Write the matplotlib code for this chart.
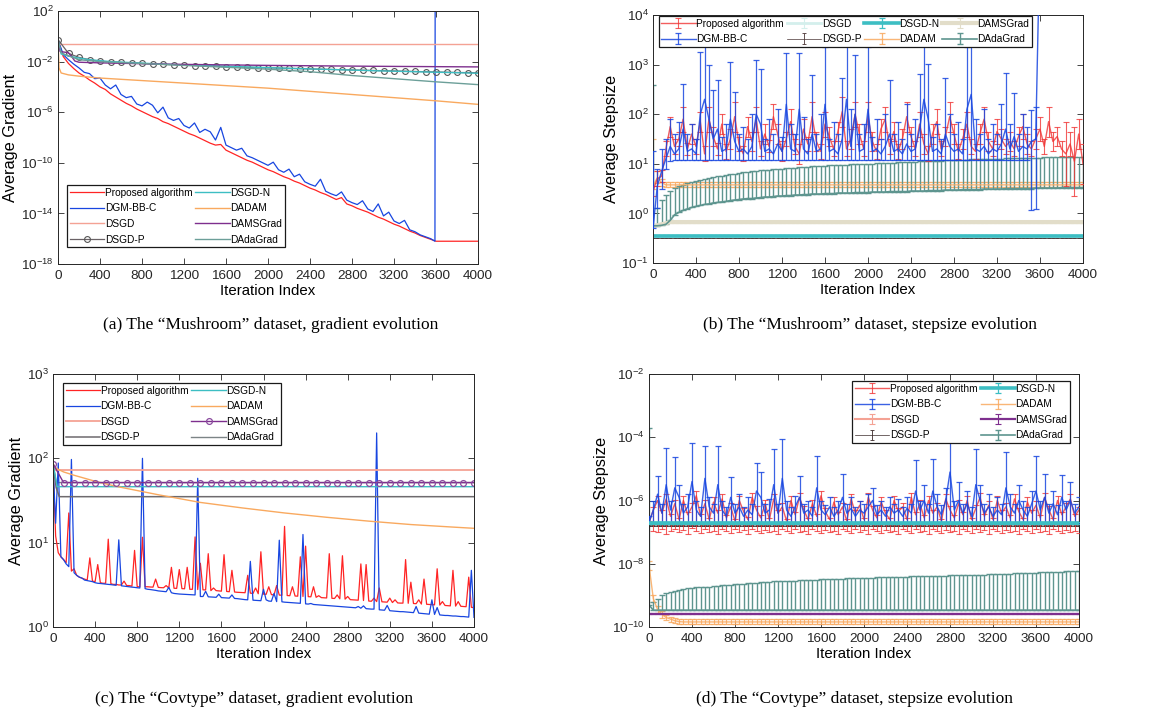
import numpy as np
import matplotlib
matplotlib.use('Agg')
import matplotlib.pyplot as plt
from matplotlib.ticker import FixedLocator, NullLocator, FuncFormatter

plt.rcParams.update({
    'font.family': 'Liberation Sans',
    'mathtext.fontset': 'custom',
    'mathtext.rm': 'Liberation Sans',
    'mathtext.it': 'Liberation Sans:italic',
    'mathtext.bf': 'Liberation Sans:bold',
    'axes.linewidth': 0.7,
    'axes.edgecolor': '#262626',
    'xtick.direction': 'in', 'ytick.direction': 'in',
    'xtick.top': True, 'ytick.right': True,
    'xtick.major.size': 4, 'ytick.major.size': 4,
    'xtick.major.width': 0.6, 'ytick.major.width': 0.6,
    'xtick.color': '#262626', 'ytick.color': '#262626',
    'xtick.labelsize': 9.7, 'ytick.labelsize': 9.7,
    'xtick.major.pad': 4, 'ytick.major.pad': 3,
    'axes.labelsize': 10.8,
})

labels = ['Proposed algorithm', 'DGM-BB-C', 'DSGD', 'DSGD-P',
          'DSGD-N', 'DADAM', 'DAMSGrad', 'DAdaGrad']

# ===================== (a) Mushroom, gradient (log10 values) =====================
it_a = np.arange(0, 4001, 50)
red_a = [-0.26, -1.6, -2.15, -2.55, -2.9, -3.15, -3.45, -3.7, -4.0, -4.2,
         -4.55, -4.8, -5.05, -5.3, -5.5, -5.75, -5.95, -6.15, -6.35, -6.5,
         -6.75, -6.9, -7.1, -7.3, -7.5, -7.7, -7.85, -8.05, -8.25, -8.45,
         -8.6, -8.55, -9.0, -9.2, -9.4, -9.6, -9.8, -9.95, -10.15, -10.35,
         -10.55, -10.7, -10.9, -11.1, -11.25, -11.45, -11.6, -11.8, -12.0, -12.15,
         -12.35, -12.5, -12.7, -12.9, -12.75, -13.25, -13.4, -13.6, -13.75, -13.9,
         -14.1, -14.3, -14.45, -14.65, -14.85, -15.0, -15.2, -15.4, -15.55, -15.75,
         -15.9, -16.05, -16.2, -16.2, -16.2, -16.2, -16.2, -16.2, -16.2, -16.2,
         -16.2]
blue_a = [-0.26, -1.45, -1.85, -2.2, -2.5, -2.85, -2.95, -3.35, -3.3, -3.85,
          -4.15, -3.85, -4.6, -4.85, -4.75, -5.35, -5.5, -5.2, -5.45, -6.05,
          -5.6, -6.45, -6.65, -6.5, -7.05, -7.25, -6.85, -7.6, -7.35, -7.55,
          -8.2, -7.2, -8.6, -8.8, -9.0, -8.85, -9.45, -9.6, -9.8, -10.0,
          -10.2, -9.95, -10.55, -10.75, -10.5, -11.1, -10.9, -11.5, -11.7, -11.85,
          -11.3, -12.25, -12.45, -12.6, -12.3, -12.95, -13.15, -13.3, -13.0, -13.65,
          -13.85, -13.25, -14.2, -13.9, -14.6, -14.8, -14.55, -15.3, -15.45, -15.7,
          -15.85, -16.0]
blue_a_tail_it = [3590, 3592]
blue_a_tail = [-16.2, 4.0]
dsgd_a_it = [0, 4000]
dsgd_a = [-0.58, -0.58]
it_100 = np.arange(0, 4001, 100)
dsgdp_a = [-0.26, -1.35, -1.67, -1.85, -1.97, -2.03, -2.07, -2.11, -2.15, -2.19,
           -2.22, -2.25, -2.28, -2.31, -2.34, -2.37, -2.4, -2.42, -2.44, -2.47,
           -2.49, -2.51, -2.54, -2.56, -2.58, -2.6, -2.62, -2.64, -2.66, -2.68,
           -2.7, -2.72, -2.74, -2.76, -2.78, -2.8, -2.82, -2.84, -2.86, -2.87,
           -2.89]
dsgdn_a_it = [0, 30, 100, 200, 300, 500, 1000, 2000, 3000, 4000]
dsgdn_a = [-0.26, -1.4, -1.55, -1.72, -1.85, -2.0, -2.2, -2.48, -2.72, -2.92]
dadam_a_it = [0, 10, 30, 100, 200, 400, 800, 1200, 1600, 2000, 2400, 2800, 3200, 3600, 4000]
dadam_a = [-0.26, -2.5, -2.9, -3.05, -3.15, -3.3, -3.5, -3.7, -3.9, -4.1, -4.35, -4.6, -4.85, -5.1, -5.38]
dams_a_it = [0, 20, 60, 100, 130, 160, 200, 400, 1000, 2000, 3000, 4000]
dams_a = [-0.26, -1.2, -1.25, -1.3, -1.6, -1.95, -2.05, -2.1, -2.2, -2.3, -2.37, -2.42]
ada_a_it = [0, 30, 100, 200, 400, 800, 1200, 1600, 2000, 2400, 2800, 3200, 3600, 4000]
ada_a = [-0.26, -1.3, -1.55, -1.85, -2.0, -2.15, -2.3, -2.45, -2.6, -2.8, -3.1, -3.35, -3.6, -3.82]

# ===================== (b) Mushroom, stepsize (log10 values) =====================
it_b = np.arange(0, 4001, 40)
red_b_c = [0.45, 0.7, 0.75, 1.3, 1.75, 1.35, 1.5, 1.9, 1.3, 1.6,
           1.35, 1.85, 1.2, 1.9, 1.55, 1.3, 1.8, 1.25, 1.5, 1.95,
           1.4, 1.2, 1.75, 1.45, 1.9, 1.3, 1.6, 1.35, 1.95, 1.6,
           1.25, 1.5, 1.85, 1.35, 1.2, 1.7, 1.4, 1.95, 1.45, 1.25,
           1.8, 1.55, 1.3, 1.65, 2.05, 1.3, 1.5, 2.0, 1.6, 1.3,
           1.95, 1.45, 1.25, 1.7, 1.9, 1.35, 1.65, 1.25, 1.5, 1.95,
           1.55, 1.3, 1.8, 1.4, 1.2, 1.6, 1.85, 1.3, 1.55, 1.95,
           1.6, 1.25, 1.5, 1.8, 1.35, 1.25, 1.6, 1.9, 1.45, 1.3,
           1.65, 1.5, 1.35, 1.45, 1.3, 1.55, 1.75, 1.4, 1.3, 1.5,
           1.7, 1.35, 1.85, 1.45, 1.55, 1.3, 1.2, 1.4, 1.05, 1.6,
           1.0]
red_b_err = [0.1, 0.15, 0.12, 0.15, 0.2, 0.15, 0.15, 0.25, 0.12, 0.2,
             0.15, 0.2, 0.15, 0.25, 0.2, 0.12, 0.2, 0.15, 0.2, 0.3,
             0.15, 0.15, 0.2, 0.2, 0.25, 0.15, 0.2, 0.12, 0.25, 0.2,
             0.2, 0.15, 0.25, 0.15, 0.2, 0.2, 0.15, 0.3, 0.2, 0.15,
             0.25, 0.2, 0.15, 0.2, 0.3, 0.15, 0.2, 0.25, 0.2, 0.15,
             0.3, 0.2, 0.15, 0.2, 0.25, 0.15, 0.2, 0.15, 0.2, 0.3,
             0.2, 0.15, 0.25, 0.2, 0.15, 0.2, 0.25, 0.15, 0.2, 0.3,
             0.2, 0.15, 0.2, 0.25, 0.15, 0.15, 0.2, 0.25, 0.2, 0.15,
             0.25, 0.2, 0.15, 0.2, 0.15, 0.2, 0.25, 0.2, 0.15, 0.2,
             0.25, 0.15, 0.3, 0.2, 0.2, 0.15, 0.65, 0.25, 0.7, 0.3,
             0.4]
blue_b_c = [-0.3, 0.55, 0.85, 1.1, 1.35, 1.2, 1.3, 1.7, 1.25, 1.3,
            1.2, 2.0, 2.3, 1.9, 1.5, 1.7, 1.25, 1.3, 1.9, 1.45,
            1.25, 1.3, 1.2, 1.35, 2.0, 1.8, 1.25, 1.3, 1.2, 1.4,
            1.25, 2.2, 1.3, 1.25, 2.1, 1.3, 1.2, 1.6, 1.25, 1.3,
            2.2, 1.25, 1.3, 1.2, 1.5, 2.3, 1.35, 2.0, 1.25, 1.3,
            2.1, 1.25, 1.3, 1.2, 1.35, 1.6, 1.25, 1.3, 1.2, 1.4,
            1.25, 1.3, 1.7, 2.3, 1.9, 1.25, 1.3, 1.2, 1.6, 1.35,
            1.25, 1.3, 1.2, 2.1, 2.4, 1.3, 1.25, 1.35, 1.2, 1.3,
            1.25, 1.4, 1.7, 1.3, 1.55, 1.25, 1.35, 1.3, 1.45, 1.5]
blue_b_hi = [1.25, 0.9, 1.3, 1.5, 1.9, 1.6, 1.85, 2.6, 1.6, 1.8,
             1.5, 3.26, 3.39, 2.99, 2.49, 2.69, 1.55, 1.8, 3.05, 2.45,
             1.6, 1.75, 1.5, 2.0, 3.09, 2.92, 1.5, 1.9, 1.6, 2.1,
             1.55, 3.24, 1.8, 1.6, 3.24, 1.95, 1.5, 2.79, 1.6, 2.0,
             3.36, 1.5, 1.85, 1.6, 2.72, 3.46, 2.1, 3.19, 1.6, 1.8,
             3.36, 1.55, 1.9, 1.5, 2.0, 2.69, 1.6, 1.85, 1.5, 2.2,
             1.6, 1.9, 2.82, 3.39, 3.02, 1.55, 1.8, 1.5, 2.72, 2.0,
             1.6, 1.85, 1.5, 3.36, 3.49, 1.9, 1.6, 2.1, 1.5, 1.8,
             1.6, 2.2, 2.83, 1.8, 2.42, 1.6, 2.0, 1.75, 2.08, 2.15]
blue_b_lo = [-0.3, 0.1, 0.5, 0.9, 1.05] + [1.08] * 83 + [0.06, 0.09]
blue_b_tail_it = [3560, 3590]
blue_b_tail = [1.5, 4.6]
ada_b_lo = [-0.25, -0.25, -0.24, -0.22, -0.14, -0.03, 0.02, 0.06, 0.09, 0.12,
            0.14, 0.16, 0.18, 0.19, 0.21, 0.22, 0.23, 0.24, 0.26, 0.27,
            0.28, 0.29, 0.3, 0.3, 0.31, 0.32, 0.33, 0.33, 0.34, 0.35,
            0.35, 0.36, 0.36, 0.37, 0.37, 0.38, 0.38, 0.39, 0.39, 0.39,
            0.4, 0.4, 0.4, 0.41, 0.41, 0.41, 0.41, 0.42, 0.42, 0.42,
            0.42, 0.43, 0.43, 0.43, 0.43, 0.44, 0.44, 0.44, 0.44, 0.44,
            0.45, 0.45, 0.45, 0.45, 0.46, 0.46, 0.46, 0.46, 0.47, 0.47,
            0.47, 0.47, 0.48, 0.48, 0.48, 0.48, 0.48, 0.49, 0.49, 0.49,
            0.49, 0.49, 0.5, 0.5, 0.5, 0.5, 0.5, 0.5, 0.5, 0.51,
            0.51, 0.51, 0.51, 0.51, 0.51, 0.52, 0.52, 0.52, 0.52, 0.52,
            0.52]
ada_b_hi = [2.59, 0.1, 0.28, 0.38, 0.45, 0.52, 0.55, 0.58, 0.61, 0.63,
            0.66, 0.68, 0.69, 0.71, 0.73, 0.75, 0.76, 0.77, 0.79, 0.8,
            0.82, 0.83, 0.84, 0.85, 0.86, 0.87, 0.88, 0.88, 0.89, 0.9,
            0.9, 0.91, 0.92, 0.92, 0.93, 0.93, 0.94, 0.95, 0.95, 0.96,
            0.96, 0.97, 0.97, 0.97, 0.98, 0.98, 0.99, 0.99, 0.99, 1.0,
            1.0, 1.0, 1.01, 1.01, 1.02, 1.02, 1.02, 1.03, 1.03, 1.04,
            1.04, 1.04, 1.05, 1.05, 1.05, 1.06, 1.06, 1.06, 1.07, 1.07,
            1.07, 1.08, 1.08, 1.08, 1.09, 1.09, 1.09, 1.09, 1.1, 1.1,
            1.1, 1.1, 1.11, 1.11, 1.11, 1.11, 1.12, 1.12, 1.12, 1.12,
            1.12, 1.13, 1.13, 1.13, 1.13, 1.13, 1.14, 1.14, 1.14, 1.14,
            1.14]
dadam_b_c = [0.55, 0.72, 0.62] + [0.575] * 98
dadam_b_lo = [0.5, 0.62, 0.56] + [0.525] * 98
dadam_b_hi = [1.5, 0.85, 0.7] + [0.625] * 98
dams_b = [-0.25, -0.24, -0.22, -0.2] + [-0.175] * 97
dsgdn_b_level = -0.455
dsgdp_b_level = -0.49

# ===================== (c) Covtype, gradient (linear values) =====================
it_c = np.arange(0, 4001, 25)
red_c = [86.5, 12.0, 7.6, 6.8, 6.3, 5.8, 22.5, 4.6, 4.9, 4.1,
         3.9, 3.8, 3.7, 3.6, 6.6, 3.5, 3.45, 5.5, 3.35, 3.3,
         3.3, 11.0, 3.25, 3.2, 3.2, 3.15, 3.15, 3.5, 3.1, 3.1,
         3.05, 8.1, 3.0, 3.0, 11.6, 3.0, 3.0, 2.98, 2.97, 3.7,
         2.95, 2.93, 2.92, 3.1, 2.9, 5.1, 2.88, 2.87, 4.8, 2.85,
         2.84, 5.1, 2.8, 2.8, 11.7, 2.78, 5.7, 2.76, 2.75, 7.4,
         2.7, 2.9, 2.7, 2.68, 2.66, 7.2, 2.64, 2.62, 4.7, 2.6,
         2.58, 2.57, 2.56, 2.55, 4.1, 2.52, 2.5, 2.9, 2.48, 7.8,
         2.45, 2.44, 3.0, 2.42, 2.4, 3.1, 2.39, 2.38, 15.6, 2.36,
         2.35, 3.0, 2.33, 2.32, 6.8, 2.3, 9.1, 2.29, 2.28, 3.0,
         2.25, 2.35, 2.23, 2.22, 2.21, 7.4, 2.19, 2.18, 2.4, 2.16,
         7.0, 2.14, 2.3, 2.11, 2.1, 2.09, 2.08, 5.6, 2.06, 5.5,
         2.03, 2.02, 2.2, 2.0, 2.9, 1.99, 1.98, 1.97, 2.2, 1.95,
         2.1, 1.93, 1.92, 1.92, 6.3, 1.91, 3.4, 1.9, 1.89, 2.1,
         1.87, 3.7, 1.86, 1.85, 1.84, 1.83, 4.9, 1.82, 2.0, 1.8,
         1.79, 1.78, 4.7, 1.77, 2.0, 1.76, 1.75, 1.74, 3.9, 1.71,
         1.7]
blue_c = [86.5, 17.0, 88.0, 6.8, 6.3, 5.6, 5.2, 97.0, 4.4, 4.1,
          3.9, 3.8, 3.6, 3.55, 3.5, 3.45, 3.35, 3.3, 3.28, 3.25,
          3.22, 3.2, 3.18, 3.15, 3.12, 10.8, 3.08, 3.05, 3.02, 3.0,
          2.97, 2.95, 2.92, 2.9, 100.0, 2.85, 2.8, 2.78, 2.75, 2.72,
          2.68, 2.66, 2.64, 2.62, 2.95, 2.55, 2.5, 2.48, 2.46, 2.45,
          2.44, 2.43, 2.42, 2.41, 2.4, 58.0, 2.3, 2.3, 2.65, 2.28,
          2.27, 2.26, 2.25, 2.45, 2.23, 2.22, 2.21, 2.2, 2.4, 2.18,
          2.17, 2.15, 2.13, 2.11, 2.1, 6.0, 2.08, 2.07, 2.06, 2.05,
          2.8, 2.1, 2.03, 2.02, 2.5, 2.0, 10.7, 1.99, 1.97, 1.96,
          1.95, 1.94, 1.93, 1.92, 1.91, 12.5, 1.88, 1.87, 1.9, 1.85,
          1.84, 1.83, 1.82, 1.81, 1.8, 1.79, 1.78, 1.77, 1.76, 1.75,
          1.74, 1.73, 1.72, 1.71, 1.7, 1.69, 1.75, 1.67, 1.78, 1.65,
          1.64, 1.63, 1.63, 200.0, 1.6, 1.59, 1.58, 1.8, 1.56, 1.55,
          1.54, 1.53, 1.52, 1.52, 1.51, 1.5, 1.49, 1.48, 1.75, 1.46,
          1.45, 1.44, 1.43, 1.42, 2.1, 1.41, 1.7, 1.39, 1.38, 1.37,
          1.37, 1.36, 1.35, 1.35, 1.34, 1.33, 1.33, 1.32, 1.31, 4.7,
          1.3]
dsgd_c_it = [0, 4000]
dsgd_c = [73.5, 73.5]
dsgdp_c_it = [0, 30, 60, 4000]
dsgdp_c = [86.5, 45.0, 35.1, 35.1]
dsgdn_c_it = [0, 40, 4000]
dsgdn_c = [86.5, 46.1, 46.1]
dadam_c_it = [0, 25, 50, 100, 200, 400, 600, 800, 1000, 1400, 1800, 2200, 2600, 3000, 3400, 3800, 4000]
dadam_c = [86.5, 78.0, 74.0, 69.0, 63.0, 53.5, 46.5, 41.5, 37.0, 30.0, 25.8, 22.5, 20.0, 18.0, 16.4, 15.3, 14.8]
dams_c = [86.5] + [51.6] * 40
ada_c_it = [0, 30, 4000]
ada_c = [86.5, 51.6, 51.6]

# ===================== (d) Covtype, stepsize (log10 values) =====================
red_d_c = [-6.7, -6.3, -6.0, -6.4, -5.95, -6.5, -6.1, -6.6, -6.0, -6.45,
           -6.2, -5.85, -6.5, -6.1, -6.6, -6.05, -6.4, -5.95, -6.55, -6.2,
           -6.65, -6.0, -6.35, -6.6, -5.9, -6.3, -6.55, -6.1, -6.6, -5.95,
           -6.4, -6.2, -6.65, -6.0, -6.45, -5.9, -6.3, -6.6, -6.1, -6.5,
           -5.85, -6.35, -6.6, -6.05, -6.45, -6.2, -6.65, -5.95, -6.4, -6.15,
           -6.6, -5.9, -6.3, -6.55, -6.05, -6.4, -6.6, -6.0, -6.35, -6.2,
           -6.6, -5.9, -6.45, -6.1, -6.55, -6.0, -6.4, -6.2, -6.65, -5.95,
           -6.3, -6.55, -6.1, -6.45, -6.0, -6.6, -6.25, -5.9, -6.5, -6.15,
           -6.6, -6.0, -6.4, -6.2, -6.55, -5.95, -6.35, -6.6, -6.05, -6.4,
           -6.15, -6.55, -5.9, -6.3, -6.6, -6.0, -6.45, -6.2, -5.95, -6.5,
           -6.3]
red_d_up = [0.05, 0.1, 0.15, 0.1, 0.15, 0.08, 0.12, 0.05, 0.15, 0.1,
            0.12, 0.15, 0.08, 0.12, 0.05, 0.15, 0.1, 0.15, 0.08, 0.12,
            0.05, 0.15, 0.1, 0.08, 0.15, 0.12, 0.08, 0.12, 0.05, 0.15,
            0.1, 0.12, 0.05, 0.15, 0.1, 0.15, 0.12, 0.05, 0.12, 0.08,
            0.15, 0.1, 0.05, 0.15, 0.1, 0.12, 0.05, 0.15, 0.1, 0.12,
            0.05, 0.15, 0.12, 0.08, 0.15, 0.1, 0.05, 0.15, 0.1, 0.12,
            0.05, 0.15, 0.1, 0.12, 0.08, 0.15, 0.1, 0.12, 0.05, 0.15,
            0.12, 0.08, 0.12, 0.1, 0.15, 0.05, 0.12, 0.15, 0.08, 0.12,
            0.05, 0.15, 0.1, 0.12, 0.08, 0.15, 0.1, 0.05, 0.15, 0.1,
            0.12, 0.08, 0.15, 0.12, 0.05, 0.15, 0.1, 0.12, 0.15, 0.08,
            0.1]
red_d_lo = [-6.75, -6.95, -7.0, -6.9, -7.05, -6.95, -6.9, -7.0, -6.92, -7.05,
            -6.88, -6.98, -7.02, -6.9, -7.0, -6.95, -7.05, -6.9, -6.97, -7.03,
            -6.9, -7.0, -6.93, -7.05, -6.9, -6.98, -7.02, -6.92, -7.0, -6.95,
            -7.05, -6.9, -6.98, -7.03, -6.9, -7.0, -6.95, -7.05, -6.9, -6.97,
            -7.02, -6.92, -7.0, -6.95, -7.05, -6.9, -6.98, -7.03, -6.9, -7.0,
            -6.93, -7.05, -6.9, -6.97, -7.02, -6.92, -7.0, -6.95, -7.05, -6.9,
            -6.98, -7.03, -6.9, -7.0, -6.95, -7.05, -6.9, -6.97, -7.02, -6.92,
            -7.0, -6.95, -7.05, -6.9, -6.98, -7.03, -6.9, -7.0, -6.93, -7.05,
            -6.9, -6.97, -7.02, -6.92, -7.0, -6.95, -7.05, -6.9, -6.98, -7.03,
            -6.9, -7.0, -6.95, -7.05, -6.9, -6.97, -7.02, -6.92, -7.0, -6.95,
            -7.03]
blue_d_c = [-6.7, -6.3, -5.8, -6.4, -5.5, -6.3, -5.6, -5.9, -6.4, -6.2,
            -5.4, -6.3, -6.5, -5.3, -6.2, -6.4, -5.5, -6.3, -6.5, -5.9,
            -6.4, -6.2, -6.5, -6.3, -6.45, -5.7, -5.9, -6.4, -6.3, -5.5,
            -6.4, -5.3, -6.3, -6.5, -6.2, -5.9, -6.4, -6.3, -6.5, -5.6,
            -6.3, -6.45, -6.2, -6.5, -6.3, -5.9, -6.4, -6.25, -6.5, -6.3,
            -6.4, -6.2, -6.0, -6.45, -6.3, -6.5, -6.2, -6.4, -6.3, -6.5,
            -6.25, -6.4, -5.7, -6.3, -6.0, -6.4, -5.7, -6.2, -6.45, -6.0,
            -5.1, -6.3, -6.0, -6.4, -6.1, -6.5, -5.5, -6.0, -6.4, -6.2,
            -6.5, -6.3, -6.45, -5.6, -6.2, -6.4, -6.0, -6.3, -6.5, -6.1,
            -5.7, -6.3, -5.9, -6.4, -6.1, -6.45, -5.9, -6.3, -6.0, -6.4,
            -6.2]
blue_d_up = [-6.5, -6.0, -5.23, -6.1, -4.34, -6.0, -4.62, -5.5, -6.1, -5.8,
             -4.18, -6.0, -6.2, -4.27, -5.9, -6.1, -4.29, -6.0, -6.2, -5.27,
             -6.1, -5.8, -6.2, -5.9, -6.1, -4.83, -5.1, -6.1, -5.95, -4.36,
             -6.1, -4.05, -6.0, -6.2, -5.85, -5.21, -6.1, -6.0, -6.2, -4.6,
             -6.0, -6.15, -5.9, -6.2, -6.0, -5.16, -6.1, -5.9, -6.2, -6.0,
             -6.1, -5.8, -5.6, -6.15, -6.0, -6.2, -5.9, -6.1, -5.95, -6.2,
             -5.9, -6.1, -4.73, -6.0, -5.5, -6.1, -4.69, -5.8, -6.15, -5.6,
             -4.08, -6.0, -5.4, -6.1, -5.7, -6.2, -4.37, -5.5, -6.1, -5.8,
             -6.2, -5.9, -6.1, -4.47, -5.8, -6.1, -5.5, -6.0, -6.2, -5.7,
             -4.6, -6.0, -5.15, -6.1, -5.7, -6.15, -5.2, -6.0, -5.42, -6.1,
             -5.9]
blue_d_lo_level = -6.72
ada_d_lo = [-9.3] + [-9.47] * 100
ada_d_hi = [-3.7, -9.2, -9.1, -9.0, -8.93, -8.88, -8.85, -8.82, -8.8, -8.78,
            -8.76, -8.75, -8.74, -8.73, -8.72, -8.7, -8.69, -8.68, -8.67, -8.66,
            -8.65, -8.64, -8.63, -8.62, -8.61, -8.6, -8.59, -8.58, -8.57, -8.56,
            -8.55, -8.55, -8.54, -8.54, -8.53, -8.52, -8.52, -8.51, -8.5, -8.5,
            -8.49, -8.49, -8.48, -8.48, -8.47, -8.47, -8.46, -8.46, -8.45, -8.45,
            -8.45, -8.44, -8.44, -8.43, -8.43, -8.43, -8.42, -8.42, -8.41, -8.41,
            -8.41, -8.4, -8.4, -8.4, -8.39, -8.39, -8.39, -8.38, -8.38, -8.38,
            -8.37, -8.37, -8.36, -8.36, -8.36, -8.35, -8.35, -8.34, -8.34, -8.33,
            -8.33, -8.32, -8.32, -8.31, -8.31, -8.3, -8.3, -8.29, -8.29, -8.28,
            -8.28, -8.27, -8.27, -8.26, -8.26, -8.25, -8.25, -8.24, -8.24, -8.23,
            -8.22]
dadam_d_c = [-8.05, -9.1, -9.45, -9.6, -9.7, -9.75, -9.8, -9.83] + [-9.84] * 93
dadam_d_err = [0.15, 0.12, 0.1, 0.1] + [0.08] * 97
dams_d_level = -9.58
dsgdn_d_level = -6.71
dsgdp_d_level = -6.8

# ===================== colours =====================
C_RED = '#FF2424'
C_BLUE = '#1846E0'
C_DSGD = '#F4A294'
C_DSGDP = '#6A6266'
C_DSGDN = '#3DBEC3'
C_DADAM = '#F9A95F'
C_DAMS = '#7E2F8E'
C_ADA = '#6C9F99'


def eb(ax, x, c, lo, hi, color, lw=0.9, elw=0.8, cap=2.2, alpha=1.0, z=2,
       label=None, ls='-', ecolor=None):
    c = np.asarray(c, float)
    y = 10 ** c
    err = np.vstack([y - 10 ** np.asarray(lo, float), 10 ** np.asarray(hi, float) - y])
    return ax.errorbar(x, y, yerr=err, fmt=ls, color=color,
                       ecolor=ecolor or color, lw=lw, elinewidth=elw,
                       capsize=cap, capthick=elw, alpha=alpha, zorder=z, label=label)


def style(ax, ylo, yhi, exps, ylabel):
    ax.set_yscale('log')
    ax.set_xlim(0, 4000)
    ax.set_ylim(10.0 ** ylo, 10.0 ** yhi)
    ax.xaxis.set_major_locator(FixedLocator(np.arange(0, 4001, 400)))
    ax.yaxis.set_major_locator(FixedLocator([10.0 ** e for e in exps]))
    ax.yaxis.set_minor_locator(NullLocator())
    ax.yaxis.set_major_formatter(FuncFormatter(
        lambda v, p: r'$10^{%d}$' % int(round(np.log10(v)))))
    ax.set_xlabel('Iteration Index', labelpad=2)
    ax.set_ylabel(ylabel, labelpad=2, fontsize=11.8)


def legend(ax, ncol, **kw):
    lg = ax.legend(ncol=ncol, fontsize=7.3, frameon=True, fancybox=False,
                   edgecolor='#1a1a1a', framealpha=1, handlelength=3.4,
                   handletextpad=0.05, columnspacing=0.3, borderpad=0.25,
                   labelspacing=0.55, borderaxespad=0, **kw)
    lg.get_frame().set_linewidth(0.9)
    return lg


fig = plt.figure(figsize=(11.49, 7.17), dpi=100)
axA = fig.add_axes([58 / 1149, 1 - 264 / 717, 420 / 1149, 253 / 717])
axB = fig.add_axes([653 / 1149, 1 - 263 / 717, 430 / 1149, 248 / 717])
axC = fig.add_axes([53 / 1149, 1 - 627 / 717, 421 / 1149, 253 / 717])
axD = fig.add_axes([649 / 1149, 1 - 627 / 717, 430 / 1149, 253 / 717])

# ---------- (a) ----------
ax = axA
ax.plot(it_a, 10 ** np.array(red_a), color=C_RED, lw=0.9, label=labels[0])
bx = np.concatenate([np.arange(0, 3551, 50), blue_a_tail_it])
by = np.concatenate([blue_a, blue_a_tail])
ax.plot(bx, 10 ** by, color=C_BLUE, lw=0.9, label=labels[1])
ax.plot(dsgd_a_it, 10 ** np.array(dsgd_a), color=C_DSGD, lw=1.0, label=labels[2])
ax.plot(it_100, 10 ** np.array(dsgdp_a), color=C_DSGDP, lw=0.9, marker='o', ms=4.2,
        mfc='none', mec='#555555', mew=0.8, label=labels[3])
ax.plot(dsgdn_a_it, 10 ** np.array(dsgdn_a), color=C_DSGDN, lw=1.0, label=labels[4])
ax.plot(dadam_a_it, 10 ** np.array(dadam_a), color=C_DADAM, lw=1.0, label=labels[5])
ax.plot(dams_a_it, 10 ** np.array(dams_a), color=C_DAMS, lw=1.0, label=labels[6])
ax.plot(ada_a_it, 10 ** np.array(ada_a), color=C_ADA, lw=1.0, label=labels[7])
style(ax, -18, 2, [2, -2, -6, -10, -14, -18], 'Average Gradient')
legend(ax, 2, loc='lower left', bbox_to_anchor=(0.022, 0.067))

# ---------- (b) ----------
ax = axB
rc = np.array(red_b_c); re = np.array(red_b_err)
eb(ax, it_b, rc, rc - re, rc + re, '#F03434', lw=1.0, elw=0.8, alpha=0.8, z=3, label=labels[0])
nb = len(blue_b_c)
eb(ax, it_b[:nb], blue_b_c, blue_b_lo, blue_b_hi, C_BLUE, lw=1.0, elw=0.9, alpha=0.85, z=4, label=labels[1])
ax.plot(blue_b_tail_it, 10 ** np.array(blue_b_tail), color=C_BLUE, lw=1.0, alpha=0.85, zorder=4)
flat = np.full(len(it_b), dsgdn_b_level)
eb(ax, it_b, flat, flat - 0.02, flat + 0.02, '#D4EFEC', lw=2.0, elw=0.8, z=2, label=labels[2])
flatp = np.full(len(it_b), dsgdp_b_level)
eb(ax, it_b, flatp, flatp - 0.012, flatp + 0.012, '#4A3434', lw=0.5, elw=0.6, cap=1.2, z=2, label=labels[3])
eb(ax, it_b, flat, flat - 0.025, flat + 0.025, C_DSGDN, lw=2.6, elw=0.9, cap=2.0, z=2, label=labels[4])
eb(ax, it_b, dadam_b_c, dadam_b_lo, dadam_b_hi, C_DADAM, lw=1.0, elw=0.9, alpha=0.85, z=2, label=labels[5])
dams = np.array(dams_b)
eb(ax, it_b, dams, dams - 0.02, dams + 0.02, '#E2DDC9', lw=3.0, elw=0.8, z=2, label=labels[6])
eb(ax, it_b, ada_b_lo, ada_b_lo, ada_b_hi, '#5E958F', lw=1.2, elw=1.0, cap=2.2, z=2, label=labels[7])
style(ax, -1, 4, [-1, 0, 1, 2, 3, 4], 'Average Stepsize')
legend(ax, 4, loc='upper left', bbox_to_anchor=(0.013, 0.996))

# ---------- (c) ----------
ax = axC
ax.plot(it_c, red_c, color=C_RED, lw=0.9, label=labels[0])
ax.plot(it_c, blue_c, color=C_BLUE, lw=0.9, label=labels[1])
ax.plot(dsgd_c_it, dsgd_c, color=C_DSGD, lw=1.3, label=labels[2])
ax.plot(dsgdp_c_it, dsgdp_c, color='#6E6A6E', lw=1.1, label=labels[3])
ax.plot(dsgdn_c_it, dsgdn_c, color=C_DSGDN, lw=1.0, label=labels[4])
ax.plot(dadam_c_it, dadam_c, color=C_DADAM, lw=1.0, label=labels[5])
ax.plot(it_100, dams_c, color=C_DAMS, lw=1.0, marker='o', ms=4.2, mfc='none',
        mec='#8A4A9E', mew=0.9, label=labels[6])
ax.plot(ada_c_it, ada_c, color='#7C8486', lw=1.0, label=labels[7], zorder=1.9)
style(ax, 0, 3, [0, 1, 2, 3], 'Average Gradient')
legend(ax, 2, loc='upper left', bbox_to_anchor=(0.024, 0.964))

# ---------- (d) ----------
ax = axD
rc = np.array(red_d_c)
eb(ax, it_b, rc, red_d_lo, rc + np.array(red_d_up), '#F03434', lw=1.0, elw=0.8, alpha=0.8, z=3, label=labels[0])
eb(ax, it_b, blue_d_c, np.full(len(it_b), blue_d_lo_level), blue_d_up, C_BLUE, lw=1.0, elw=0.9, alpha=0.85, z=4, label=labels[1])
flat = np.full(len(it_b), dsgdn_d_level)
eb(ax, it_b, flat, flat - 0.02, flat + 0.02, C_DSGD, lw=1.5, elw=0.8, z=2, label=labels[2])
flatp = np.full(len(it_b), dsgdp_d_level)
eb(ax, it_b, flatp, flatp - 0.012, flatp + 0.012, '#3A2A2A', lw=0.5, elw=0.6, cap=1.2, z=2, label=labels[3])
eb(ax, it_b, flat, flat - 0.03, flat + 0.03, C_DSGDN, lw=2.6, elw=0.9, cap=2.0, z=5, label=labels[4])
dc = np.array(dadam_d_c); de = np.array(dadam_d_err)
eb(ax, it_b, dc, dc - de, dc + de, C_DADAM, lw=1.0, elw=0.9, alpha=0.85, z=2, label=labels[5])
flatm = np.full(len(it_b), dams_d_level)
eb(ax, it_b, flatm, flatm - 0.02, flatm + 0.02, C_DAMS, lw=1.6, elw=0.8, z=2, label=labels[6])
eb(ax, it_b, ada_d_lo, ada_d_lo, ada_d_hi, '#5E958F', lw=1.2, elw=1.0, cap=2.2, z=2, label=labels[7])
style(ax, -10, -2, [-10, -8, -6, -4, -2], 'Average Stepsize')
legend(ax, 2, loc='upper right', bbox_to_anchor=(0.979, 0.972))

# ---------- captions ----------
cap_kw = dict(ha='center', va='center', family='Liberation Serif', size=12.5)
fig.text(271 / 1149, 1 - 325 / 717, '(a) The \u201cMushroom\u201d dataset, gradient evolution', **cap_kw)
fig.text(870 / 1149, 1 - 325 / 717, '(b) The \u201cMushroom\u201d dataset, stepsize evolution', **cap_kw)
fig.text(254 / 1149, 1 - 699 / 717, '(c) The \u201cCovtype\u201d dataset, gradient evolution', **cap_kw)
fig.text(854 / 1149, 1 - 699 / 717, '(d) The \u201cCovtype\u201d dataset, stepsize evolution', **cap_kw)

fig.savefig('out.png', dpi=100)
